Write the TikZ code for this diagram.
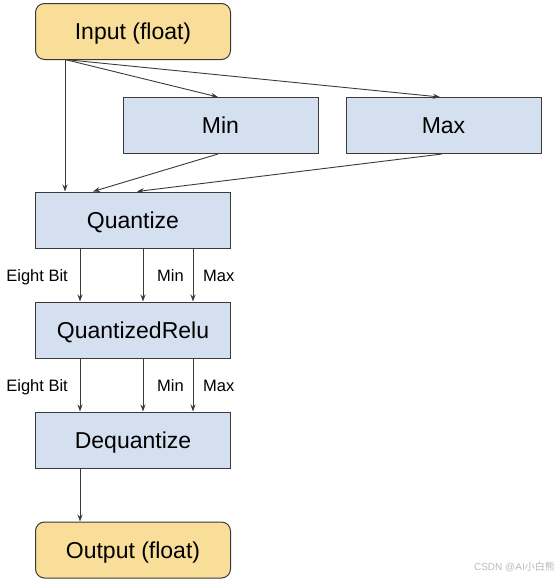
\documentclass[tikz,border=0pt]{standalone}
\usepackage{fontspec}
\setmainfont{Liberation Sans}
\newfontfamily\cjk{Noto Sans CJK SC}
\usetikzlibrary{arrows.meta}
\definecolor{boxblue}{HTML}{D4E0F0}
\definecolor{boxyellow}{HTML}{F8DE98}
\definecolor{edge}{HTML}{3A3A3A}
\tikzset{
  opbox/.style={draw=edge, line width=1pt, fill=boxblue, minimum width=195pt, minimum height=56pt, inner sep=0pt, text height=16.5pt, text depth=0pt, font=\fontsize{23}{26}\selectfont},
  iobox/.style={opbox, fill=boxyellow, rounded corners=9pt},
  conn/.style={draw=edge, line width=0.9pt, -{Stealth[length=7pt,width=5pt]}},
  lbl/.style={font=\fontsize{16.5}{19}\selectfont, inner sep=0pt, text height=11.8pt, text depth=0pt},
}
\begin{document}
\begin{tikzpicture}[x=1pt,y=-1pt]
\useasboundingbox (0,0) rectangle (556,582);
\node[iobox] (in) at (133,31.5) {Input (float)};
\node[opbox] (min) at (220.5,125.5) {Min};
\node[opbox] (max) at (443.5,125.5) {Max};
\node[opbox] (q) at (133,220) {Quantize};
\node[opbox] (qr) at (133,330) {QuantizedRelu};
\node[opbox] (dq) at (133,440) {Dequantize};
\node[iobox] (out) at (133,550) {Output (float)};
% top connectors
\coordinate (s) at (65,59.5);
\draw[conn] (s) -- (q.north -| s);
\draw[conn] (s) -- ([xshift=-2.5pt]min.north);
\draw[conn] (s) -- ([xshift=-3.5pt]max.north);
\draw[conn] ([xshift=-2.5pt]min.south) -- ([xshift=-40pt]q.north);
\draw[conn] ([xshift=-1.5pt]max.south) -- ([xshift=4pt]q.north);
% quantize -> relu -> dequantize
\foreach \xx in {80,143,193}{
  \draw[conn] (q.south -| \xx,0) -- (qr.north -| \xx,0);
  \draw[conn] (qr.south -| \xx,0) -- (dq.north -| \xx,0);
}
\node[lbl, anchor=east] (l1) at (68,276) {Eight Bit};
\node[lbl, anchor=east] (l2) at (184,276) {Min};
\node[lbl, anchor=west] (l3) at (203,276) {Max};
\node[lbl, anchor=east] (l4) at (68,386) {Eight Bit};
\node[lbl, anchor=east] (l5) at (184,386) {Min};
\node[lbl, anchor=west] (l6) at (203,386) {Max};
\draw[conn] (dq.south -| 80,0) -- (out.north -| 80,0);
\node[anchor=east, inner sep=0pt, text=gray!55, font=\fontsize{10}{11}\selectfont] (wm) at (555,567) {CSDN @AI{\cjk 小白熊}};
\end{tikzpicture}
\end{document}
